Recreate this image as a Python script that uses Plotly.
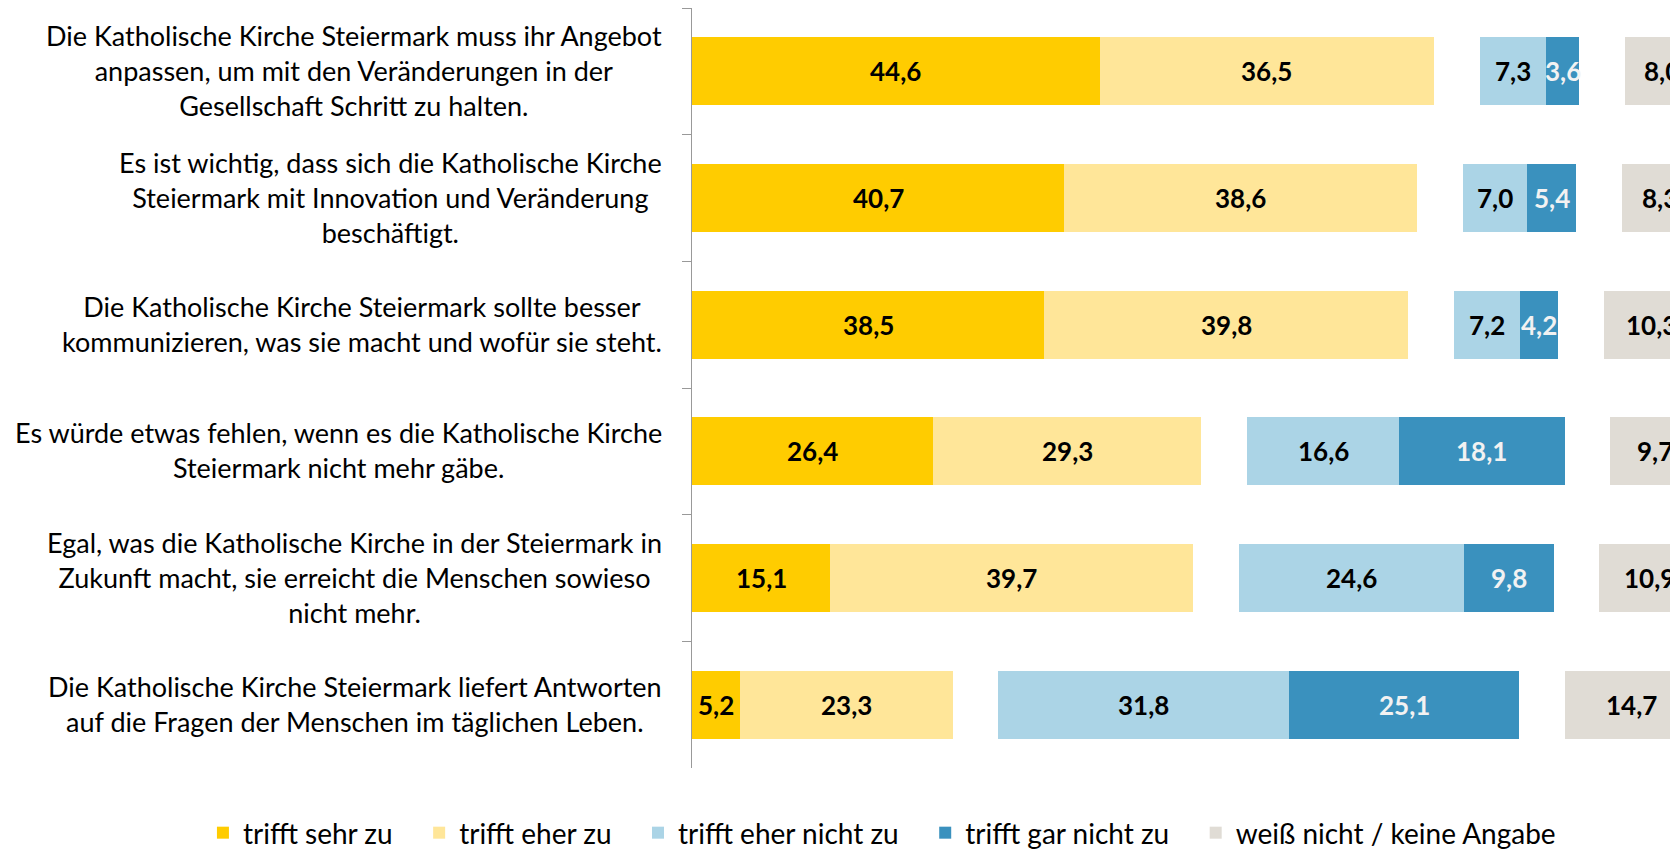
import plotly.graph_objects as go

statements = [
    "Die Katholische Kirche Steiermark muss ihr Angebot<br>anpassen, um mit den Veränderungen in der<br>Gesellschaft Schritt zu halten.",
    "Es ist wichtig, dass sich die Katholische Kirche<br>Steiermark mit Innovation und Veränderung<br>beschäftigt.",
    "Die Katholische Kirche Steiermark sollte besser<br>kommunizieren, was sie macht und wofür sie steht.",
    "Es würde etwas fehlen, wenn es die Katholische Kirche<br>Steiermark nicht mehr gäbe.",
    "Egal, was die Katholische Kirche in der Steiermark in<br>Zukunft macht, sie erreicht die Menschen sowieso<br>nicht mehr.",
    "Die Katholische Kirche Steiermark liefert Antworten<br>auf die Fragen der Menschen im täglichen Leben.",
]
cat_ids = ["s1", "s2", "s3", "s4", "s5", "s6"]

sehr_zu = [44.6, 40.7, 38.5, 26.4, 15.1, 5.2]
eher_zu = [36.5, 38.6, 39.8, 29.3, 39.7, 23.3]
eher_nicht_zu = [7.3, 7.0, 7.2, 16.6, 24.6, 31.8]
gar_nicht_zu = [3.6, 5.4, 4.2, 18.1, 9.8, 25.1]
weiss_nicht = [8.0, 8.3, 10.3, 9.7, 10.9, 14.7]
gap = [5.0] * 6

series_names = ["trifft sehr zu", "trifft eher zu", "trifft eher nicht zu",
                "trifft gar nicht zu", "weiß nicht / keine Angabe"]
colors = ["#FFCC00", "#FFE699", "#ABD4E6", "#3A91BE", "#E0DCD5"]
label_colors = ["#000000", "#000000", "#000000", "#F2F2F2", "#000000"]

FONT = "Lato"
NB = "\u00a0\u00a0\u00a0"

# stacking order: sehr, eher, gap, eher nicht, gar nicht, gap, weiß nicht
stack = [
    ("s", 0, sehr_zu), ("s", 1, eher_zu), ("g", None, gap),
    ("s", 2, eher_nicht_zu), ("s", 3, gar_nicht_zu), ("g", None, gap),
    ("s", 4, weiss_nicht),
]

fig = go.Figure()
annotations = []
base = [0.0] * 6
for kind, idx, vals in stack:
    if kind == "g":
        fig.add_trace(go.Bar(
            y=cat_ids, x=vals, orientation="h", width=0.536,
            marker=dict(color="rgba(0,0,0,0)", line=dict(width=0)),
            showlegend=False, hoverinfo="skip"))
    else:
        name = series_names[idx]
        fig.add_trace(go.Bar(
            y=cat_ids, x=vals, orientation="h", width=0.536,
            name=name + (NB if idx < 4 else ""),
            marker=dict(color=colors[idx], line=dict(width=0))))
        for i, v in enumerate(vals):
            annotations.append(dict(
                x=base[i] + v / 2, y=cat_ids[i], xref="x", yref="y",
                text=f"{v:.1f}".replace(".", ","), showarrow=False,
                font=dict(family=FONT, size=26, color=label_colors[idx], weight="bold"),
                xanchor="center", yanchor="middle"))
    base = [b + v for b, v in zip(base, vals)]

for i, s in enumerate(statements):
    annotations.append(dict(
        x=0, y=cat_ids[i], xref="paper", yref="y", xshift=-28, yshift=1,
        text=s, showarrow=False, align="center",
        xanchor="right", yanchor="middle",
        font=dict(family=FONT, size=27, color="#000000")))

fig.update_layout(
    barmode="stack",
    width=1670, height=843,
    margin=dict(l=684, r=0, t=0, b=83, autoexpand=False),
    paper_bgcolor="white", plot_bgcolor="white",
    xaxis=dict(range=[0, 107.8], showgrid=False, zeroline=False,
               showticklabels=False, showline=False, ticks=""),
    yaxis=dict(type="category", categoryorder="array", categoryarray=cat_ids,
               autorange="reversed", showticklabels=False,
               showline=True, linecolor="#999999", linewidth=1.3,
               ticks="outside", tickson="boundaries", ticklen=9,
               tickcolor="#999999", tickwidth=1.3, showgrid=False),
    legend=dict(orientation="h", xref="paper", yref="paper",
                x=-0.496, xanchor="left", y=-0.0855, yanchor="middle",
                font=dict(family=FONT, size=28, color="#000000"),
                traceorder="normal"),
    annotations=annotations,
    showlegend=True,
)

fig.write_html("out.html")
